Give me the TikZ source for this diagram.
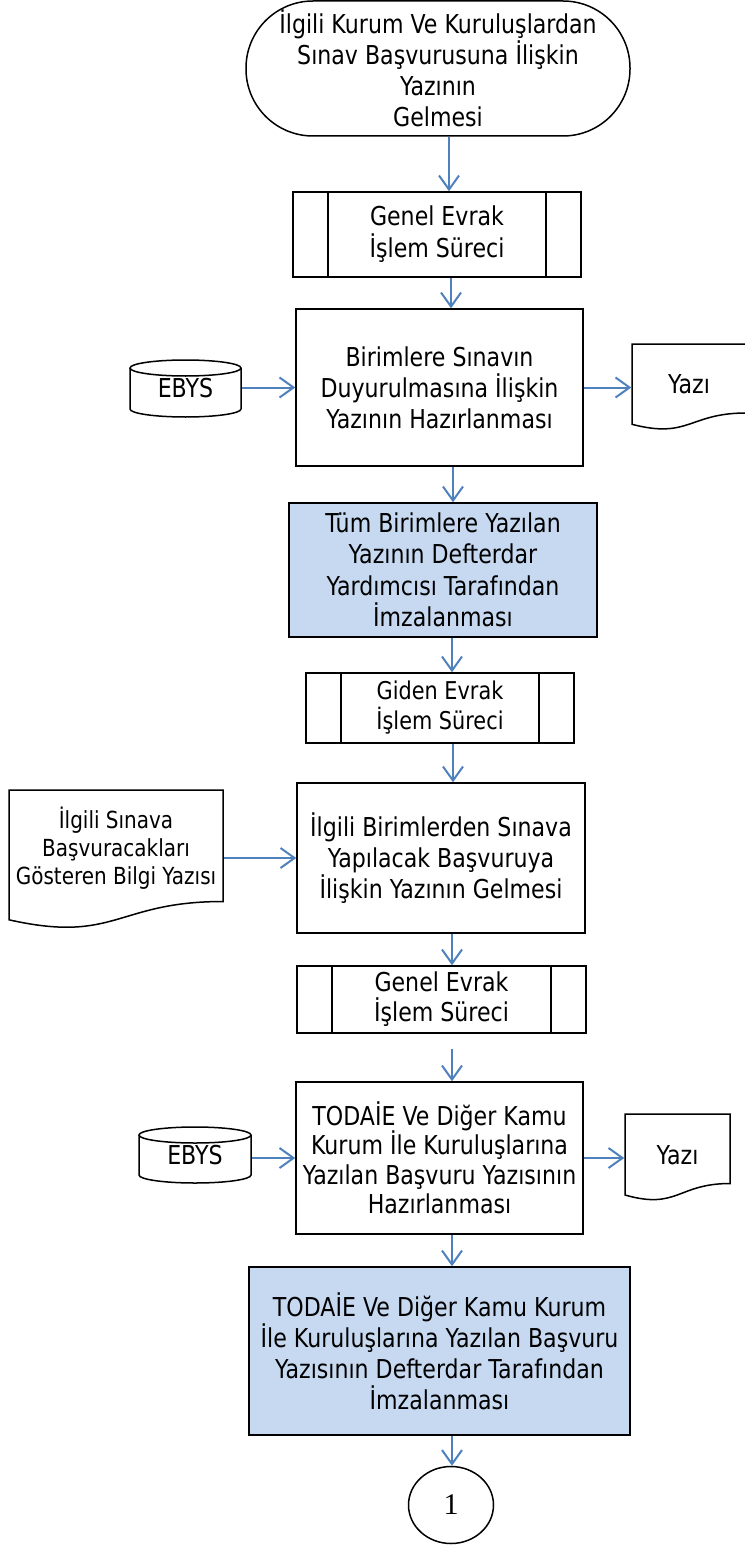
\documentclass[tikz,border=0pt]{standalone}
\usepackage{fontspec}
\setmainfont{DejaVu Sans}[FakeStretch=0.85]
\newfontfamily\onefont{Liberation Serif}
\usetikzlibrary{arrows.meta,shapes.geometric,calc}
\definecolor{arrowblue}{HTML}{4F81BD}
\definecolor{boxblue}{HTML}{C6D9F1}
\tikzset{
  base/.style={inner sep=0pt, align=center, font=\fontsize{26}{31}\selectfont, line width=1.5pt},
  procbox/.style={base, draw=black, fill=white, rectangle},
  bluebox/.style={procbox, fill=boxblue},
  subproc/.style={procbox, path picture={
      \draw[line width=1.5pt] ([xshift=35pt]path picture bounding box.north west) -- ([xshift=35pt]path picture bounding box.south west);
      \draw[line width=1.5pt] ([xshift=-35pt]path picture bounding box.north east) -- ([xshift=-35pt]path picture bounding box.south east);}},
  termbox/.style={procbox, rounded corners=67pt},
  plain/.style={base},
  outline/.style={draw=black, line width=1.5pt},
  arr/.style={draw=arrowblue, line width=2pt, -{Straight Barb[length=14pt,width=20pt]}},
}
\begin{document}
\begin{tikzpicture}[x=1pt,y=-1pt]
\useasboundingbox (0,0) rectangle (744,1546);
\fill[white] (0,0) rectangle (744,1546);

% outlines of documents and databases
\draw[outline] (632,344) -- (746,344) -- (746,413) .. controls (689,413) and (689,439.2) .. (632,424.3) -- cycle;
\draw[outline] (9,790) -- (223,790) -- (223,901.5) .. controls (116,901.5) and (116,943.9) .. (9,919.8) -- cycle;
\draw[outline] (625,1114) -- (730,1114) -- (730,1183.5) .. controls (677.5,1183.5) and (677.5,1210) .. (625,1195) -- cycle;
\draw[outline] (130,368) -- (130,409) arc[start angle=180,end angle=0,x radius=55.5,y radius=8] -- (241,368);
\draw[outline] (185.5,368) ellipse[x radius=55.5,y radius=8];
\draw[outline] (139,1135) -- (139,1175) arc[start angle=180,end angle=0,x radius=56,y radius=8] -- (251,1135);
\draw[outline] (195,1135) ellipse[x radius=56,y radius=8];

% nodes
\node[termbox, minimum width=384pt, minimum height=135pt] (term) at (438,68.5)
  {İlgili Kurum Ve Kuruluşlardan\\Sınav Başvurusuna İlişkin\\Yazının\\Gelmesi};
\node[subproc, minimum width=288pt, minimum height=85pt, font=\fontsize{26}{32}\selectfont] (sub1) at (437,234.5)
  {Genel Evrak\\İşlem Süreci};
\node[procbox, minimum width=287pt, minimum height=157pt] (box2) at (439.5,387.5)
  {Birimlere Sınavın\\Duyurulmasına İlişkin\\Yazının Hazırlanması};
\node[plain, minimum width=111pt, minimum height=57pt] (ebys1) at (185.5,388.5) {\raisebox{-5pt}{EBYS}};
\node[plain, minimum width=114pt, minimum height=86pt] (yazi1) at (689,387) {\raisebox{6pt}{Yazı}};
\node[bluebox, minimum width=308pt, minimum height=134pt, font=\fontsize{26}{31.5}\selectfont] (blue1) at (443,570)
  {Tüm Birimlere Yazılan\\Yazının Defterdar\\Yardımcısı Tarafından\\İmzalanması};
\node[subproc, minimum width=268pt, minimum height=70pt, font=\fontsize{24.5}{30}\selectfont] (giden) at (440,708)
  {Giden Evrak\\İşlem Süreci};
\node[procbox, minimum width=288pt, minimum height=150pt] (box3) at (441,858)
  {İlgili Birimlerden Sınava\\Yapılacak Başvuruya\\İlişkin Yazının Gelmesi};
\node[plain, minimum width=214pt, minimum height=110pt, font=\fontsize{23.5}{28}\selectfont] (docl) at (116,848)
  {İlgili Sınava\\Başvuracakları\\Gösteren Bilgi Yazısı};
\node[subproc, minimum width=289pt, minimum height=67pt, font=\fontsize{26}{30}\selectfont] (genel2) at (441.5,999.5)
  {Genel Evrak\\İşlem Süreci};
\node[procbox, minimum width=287pt, minimum height=152pt, font=\fontsize{26}{29.5}\selectfont] (box4) at (439.5,1158)
  {TODAİE Ve Diğer Kamu\\Kurum İle Kuruluşlarına\\Yazılan Başvuru Yazısının\\Hazırlanması};
\node[plain, minimum width=112pt, minimum height=55pt] (ebys2) at (195,1155.5) {\raisebox{-5pt}{EBYS}};
\node[plain, minimum width=105pt, minimum height=82pt] (yazi2) at (677.5,1155) {Yazı};
\node[bluebox, minimum width=381pt, minimum height=168pt] (blue2) at (439.5,1351)
  {TODAİE Ve Diğer Kamu Kurum\\İle Kuruluşlarına Yazılan Başvuru\\Yazısının Defterdar Tarafından\\İmzalanması};
\node[base, draw=black, ellipse, minimum width=85pt, minimum height=77pt, font=\onefont\fontsize{30}{34}\selectfont] (c1) at (451,1505) {1};

% spine coordinates
\coordinate (s1) at (449,0);
\coordinate (s2) at (451,0);
\coordinate (s3) at (453,0);
\coordinate (s4) at (452,0);
\coordinate (g2gap) at (452,1049);

% connectors
\draw[arr] (term.south -| s1) -- (sub1.north -| s1);
\draw[arr] (sub1.south -| s2) -- (box2.north -| s2);
\draw[arr] (box2.south -| s3) -- (blue1.north -| s3);
\draw[arr] (blue1.south -| s4) -- (giden.north -| s4);
\draw[arr] (giden.south -| s3) -- (box3.north -| s3);
\draw[arr] (box3.south -| s4) -- (genel2.north -| s4);
\draw[arr] (g2gap) -- (box4.north -| g2gap);
\draw[arr] (box4.south -| s4) -- (blue2.north -| s4);
\draw[arr] (blue2.south -| s4) -- (c1.north -| s4);

\draw[arr] (ebys1.east |- box2.west) -- (box2.west);
\draw[arr] (box2.east) -- (yazi1.west |- box2.east);
\draw[arr] (docl.east |- box3.west) -- (box3.west);
\draw[arr] (ebys2.east |- box4.west) -- (box4.west);
\draw[arr] (box4.east) -- (yazi2.west |- box4.east);
\end{tikzpicture}
\end{document}
